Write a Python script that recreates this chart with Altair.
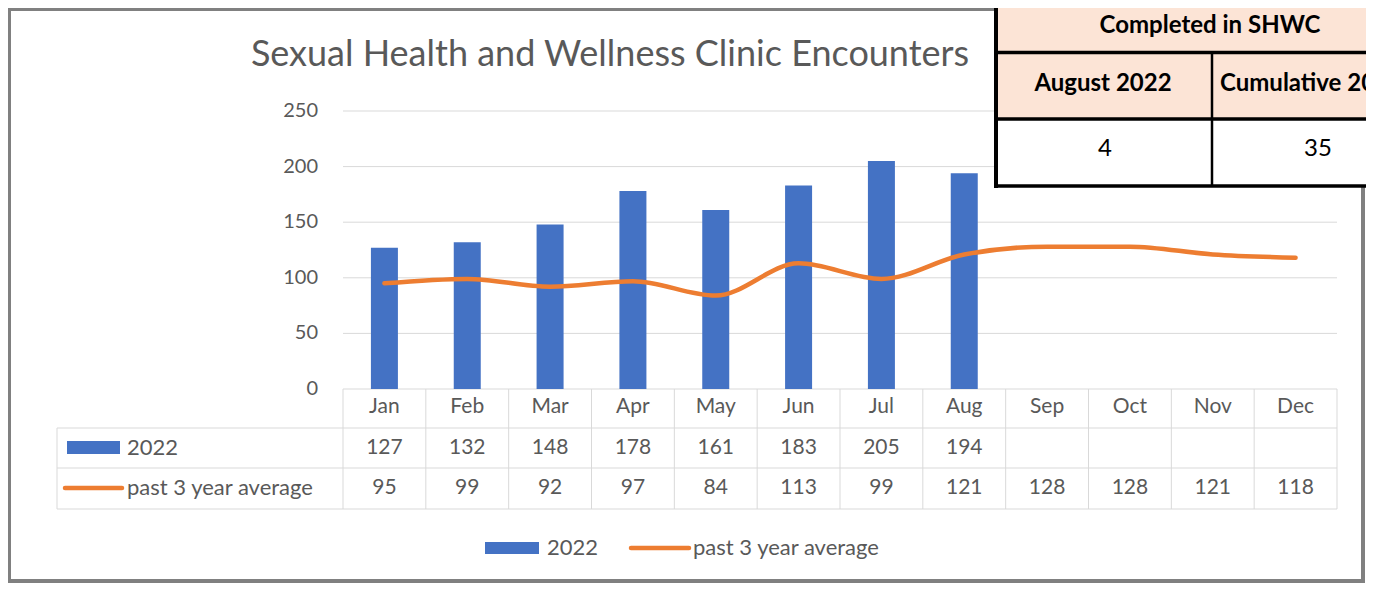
import altair as alt
import pandas as pd

# ---------------- data ----------------
months = ["Jan", "Feb", "Mar", "Apr", "May", "Jun", "Jul", "Aug", "Sep", "Oct", "Nov", "Dec"]
enc_2022 = [127, 132, 148, 178, 161, 183, 205, 194, None, None, None, None]
avg_3yr = [95, 99, 92, 97, 84, 113, 99, 121, 128, 128, 121, 118]
y_ticks = [0, 50, 100, 150, 200, 250]
series_names = ["2022", "past 3 year average"]
title_text = "Sexual Health and Wellness Clinic Encounters"
box_title = "Completed in SHWC"
box_headers = ["August 2022", "Cumulative 2022"]
box_values = ["4", "35"]

# ---------------- style ----------------
BLUE = "#4472C4"
ORANGE = "#ED7D31"
GREY = "#595959"
LINE = "#D9D9D9"
PINK = "#FCE4D6"
FONT = "Lato"
W, H = 1358, 575

# geometry (chart coordinates)
X0, X1 = 335, 1329
Y0, Y250 = 381, 103
ROW_TOP, ROW_2, ROW_3, ROW_BOT = 381, 420, 460, 501
TABLE_LEFT = 49

xs = alt.Scale(domain=months, range=[X0, X1], paddingInner=0, paddingOuter=0)
ys = alt.Scale(domain=[0, 250], range=[Y0, Y250], nice=False)
rs = alt.Scale(type="point", domain=["hdr", "2022", "avg"], range=[399, 480], padding=0)

df = pd.DataFrame({"month": months, "v2022": enc_2022, "avg": avg_3yr})
one = pd.DataFrame({"k": [0]})

X = alt.X("month:N", scale=xs, axis=None)

layers = []

# outer frame
layers.append(alt.Chart(one).mark_rect(filled=False, stroke="#808080", strokeWidth=4).encode(
    x=alt.value(1), x2=alt.value(W - 3), y=alt.value(1), y2=alt.value(H - 2)))

# title
layers.append(alt.Chart(pd.DataFrame({"t": [title_text]})).mark_text(
    font=FONT, fontSize=36, color=GREY, align="center", baseline="middle").encode(
    x=alt.value(602), y=alt.value(47), text="t:N"))

# gridlines and y labels
grid_df = pd.DataFrame({"t": y_ticks})
layers.append(alt.Chart(grid_df).mark_rule(color=LINE, strokeWidth=1).encode(
    y=alt.Y("t:Q", scale=ys, axis=None), x=alt.value(X0), x2=alt.value(X1)))
layers.append(alt.Chart(grid_df).mark_text(
    font=FONT, fontSize=20, color=GREY, align="right", baseline="middle").encode(
    y=alt.Y("t:Q", scale=ys, axis=None), x=alt.value(310), text="t:Q"))

# data-table lines
layers.append(alt.Chart(df).mark_rule(color=LINE, strokeWidth=1).encode(
    x=alt.X("month:N", scale=xs, axis=None, bandPosition=0),
    y=alt.value(ROW_TOP), y2=alt.value(ROW_BOT)))
layers.append(alt.Chart(df.tail(1)).mark_rule(color=LINE, strokeWidth=1).encode(
    x=alt.X("month:N", scale=xs, axis=None, bandPosition=1),
    y=alt.value(ROW_TOP), y2=alt.value(ROW_BOT)))
for yy in (ROW_2, ROW_3, ROW_BOT):
    layers.append(alt.Chart(one).mark_rule(color=LINE, strokeWidth=1).encode(
        x=alt.value(TABLE_LEFT), x2=alt.value(X1), y=alt.value(yy)))
layers.append(alt.Chart(one).mark_rule(color=LINE, strokeWidth=1).encode(
    x=alt.value(TABLE_LEFT), y=alt.value(ROW_2), y2=alt.value(ROW_BOT)))

# bars and line
layers.append(alt.Chart(df).mark_bar(size=27, color=BLUE).encode(
    x=X, y=alt.Y("v2022:Q", scale=ys, axis=None)))
layers.append(alt.Chart(df).mark_line(
    color=ORANGE, strokeWidth=4.5, interpolate="monotone", strokeCap="round", strokeJoin="round").encode(
    x=X, y=alt.Y("avg:Q", scale=ys, axis=None)))

# data-table text
rows = []
for m, a, b in zip(months, enc_2022, avg_3yr):
    rows.append({"month": m, "row": "hdr", "label": m})
    rows.append({"month": m, "row": "2022", "label": "" if a is None else str(a)})
    rows.append({"month": m, "row": "avg", "label": str(b)})
tdf = pd.DataFrame(rows)
layers.append(alt.Chart(tdf).mark_text(
    font=FONT, fontSize=21, color=GREY, align="center", baseline="middle").encode(
    x=X, y=alt.Y("row:N", scale=rs, axis=None), text="label:N"))

# row labels with keys
rl = pd.DataFrame({"row": ["2022", "avg"], "name": series_names})
layers.append(alt.Chart(rl).mark_text(
    font=FONT, fontSize=22, color=GREY, align="left", baseline="middle").encode(
    x=alt.value(119), y=alt.Y("row:N", scale=rs, axis=None), text="name:N"))
layers.append(alt.Chart(one).mark_rect(color=BLUE).encode(
    x=alt.value(59), x2=alt.value(112), y=alt.value(433), y2=alt.value(446)))
layers.append(alt.Chart(one).mark_rule(color=ORANGE, strokeWidth=4.5, strokeCap="round").encode(
    x=alt.value(57), x2=alt.value(114), y=alt.value(480)))

# bottom legend
layers.append(alt.Chart(one).mark_rect(color=BLUE).encode(
    x=alt.value(477), x2=alt.value(531), y=alt.value(534), y2=alt.value(546)))
layers.append(alt.Chart(one).mark_rule(color=ORANGE, strokeWidth=4.5, strokeCap="round").encode(
    x=alt.value(623), x2=alt.value(681), y=alt.value(540)))
for i, nm in enumerate(series_names):
    layers.append(alt.Chart(pd.DataFrame({"name": [nm]})).mark_text(
        font=FONT, fontSize=22, color=GREY, align="left", baseline="middle").encode(
        x=alt.value([539, 685][i]), y=alt.value(540), text="name:N"))

# overlay box (top right)
layers.append(alt.Chart(one).mark_rect(color=PINK).encode(
    x=alt.value(988), x2=alt.value(1400), y=alt.value(-10), y2=alt.value(111)))
layers.append(alt.Chart(one).mark_rect(color="white").encode(
    x=alt.value(988), x2=alt.value(1400), y=alt.value(111), y2=alt.value(178)))
for yy in (44.5, 111, 178):
    layers.append(alt.Chart(one).mark_rule(color="black", strokeWidth=3.5).encode(
        x=alt.value(986), x2=alt.value(1400), y=alt.value(yy)))
layers.append(alt.Chart(one).mark_rule(color="black", strokeWidth=4).encode(
    x=alt.value(988), y=alt.value(-10), y2=alt.value(180)))
layers.append(alt.Chart(one).mark_rule(color="black", strokeWidth=2.5).encode(
    x=alt.value(1204), y=alt.value(44), y2=alt.value(178)))
layers.append(alt.Chart(pd.DataFrame({"t": [box_title]})).mark_text(
    font=FONT, fontSize=24, fontWeight="bold", color="black", align="center", baseline="middle").encode(
    x=alt.value(1202), y=alt.value(18), text="t:N"))
layers.append(alt.Chart(pd.DataFrame({"t": [box_headers[0]]})).mark_text(
    font=FONT, fontSize=24, fontWeight="bold", color="black", align="center", baseline="middle").encode(
    x=alt.value(1095), y=alt.value(76), text="t:N"))
layers.append(alt.Chart(pd.DataFrame({"t": [box_headers[1]]})).mark_text(
    font=FONT, fontSize=24, fontWeight="bold", color="black", align="left", baseline="middle").encode(
    x=alt.value(1212), y=alt.value(76), text="t:N"))
for i, v in enumerate(box_values):
    layers.append(alt.Chart(pd.DataFrame({"t": [v]})).mark_text(
        font=FONT, fontSize=24, color="black", align="center", baseline="middle").encode(
        x=alt.value([1097, 1310][i]), y=alt.value(141), text="t:N"))

chart = alt.layer(*layers).properties(
    width=W, height=H, padding=0, autosize=alt.AutoSizeParams(type="none"), background="white"
).resolve_scale(y="independent").configure_view(stroke=None)

chart.save("out.html", embed_options={"renderer": "svg", "actions": False})
